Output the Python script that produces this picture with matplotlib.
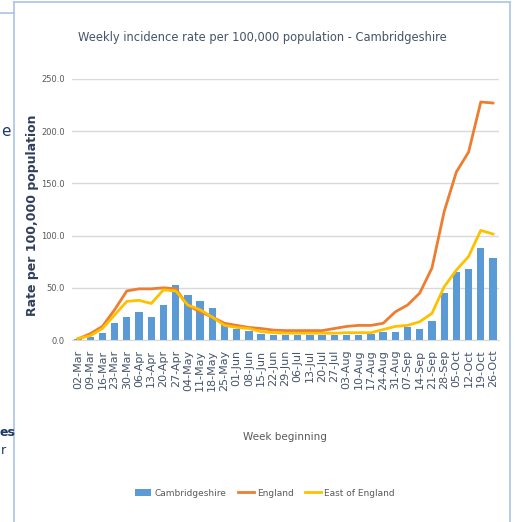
import numpy as np
import matplotlib
matplotlib.use('Agg')
from matplotlib import pyplot as plt
from matplotlib.lines import Line2D

# weekly data
weeks = ['02-Mar', '09-Mar', '16-Mar', '23-Mar', '30-Mar', '06-Apr', '13-Apr',
         '20-Apr', '27-Apr', '04-May', '11-May', '18-May', '25-May', '01-Jun',
         '08-Jun', '15-Jun', '22-Jun', '29-Jun', '06-Jul', '13-Jul', '20-Jul',
         '27-Jul', '03-Aug', '10-Aug', '17-Aug', '24-Aug', '31-Aug', '07-Sep',
         '14-Sep', '21-Sep', '28-Sep', '05-Oct', '12-Oct', '19-Oct', '26-Oct']

cambs = [1, 3, 7, 16, 22, 27, 22, 34, 53, 43, 37.5, 31, 14, 11,
         8.5, 6, 5, 5, 5, 5, 5, 5, 5, 5, 5.5, 8, 7.5, 12.5,
         11, 18.5, 45, 65.5, 68, 88, 79]

england = [1, 6, 13, 29, 47, 49, 49, 50, 49, 33, 27, 22, 16, 14,
           12, 11, 9.5, 9, 9, 9, 9, 11, 13, 14, 14, 16, 27, 33.5,
           45, 69, 123, 161, 180, 228, 227]

east = [1.5, 4, 11, 24, 37, 38, 35, 48, 47, 33.5, 29, 22, 14, 12,
        11, 8, 7, 6.5, 6.5, 6.5, 6.5, 6.5, 7, 7, 7, 10, 13, 14,
        17.5, 25.5, 51, 67, 80, 105, 101.5]

yticks = [0, 50, 100, 150, 200, 250]

navy = '#44546A'

fig = plt.figure(figsize=(5.15, 5.22), dpi=100)
ax = fig.add_axes([71.9/515, 1-340/522, (499.1-71.9)/515, (340-79)/522])

x = np.arange(len(weeks))
b = ax.bar(x, cambs, width=0.6, color='#5B9BD5', zorder=2)
l1, = ax.plot(x, england, color='#ED7D31', lw=2, zorder=3)
l2, = ax.plot(x, east, color='#FFC000', lw=2, zorder=4)

ax.set_xlim(-0.5, len(weeks)-0.5)
ax.set_ylim(0, 250)
ax.set_yticks(yticks)
ax.set_yticklabels(['%.1f' % v for v in yticks], fontsize=6, color='#595959')
ax.set_xticks(x)
ax.set_xticklabels(weeks, rotation=90, fontsize=8, color=navy)
ax.tick_params(axis='y', length=0, pad=5)
ax.tick_params(axis='x', length=0, pad=7)
ax.grid(axis='y', color='#D9D9D9', lw=1, zorder=0)
for s in ['top', 'right', 'left']:
    ax.spines[s].set_visible(False)
ax.spines['bottom'].set_color('#D9D9D9')

fig.text(285/515, 1-437/522, 'Week beginning', ha='center', va='center',
         fontsize=7.5, color='#595959')
fig.text(33/515, 1-215/522, 'Rate per 100,000 population', rotation=90,
         ha='center', va='center', fontsize=9, fontweight='bold', color='#2F3E5C')
fig.text(262/515, 1-38/522, 'Weekly incidence rate per 100,000 population - Cambridgeshire',
         ha='center', va='center', fontsize=8.3, color=navy)

fig.legend([b, l1, l2], ['Cambridgeshire', 'England', 'East of England'],
           loc='center', bbox_to_anchor=(265/515, 1-493/522), ncol=3, frameon=False,
           prop={'size': 6.5}, handlelength=1.8, handletextpad=0.3,
           columnspacing=1.3, labelcolor='#595959')

# frame of the chart box and leftover page text on the left edge
border = '#A9C4E6'
fig.add_artist(Line2D([14/515, 14/515], [0, 1-2/522], color=border, lw=1.2))
fig.add_artist(Line2D([14/515, 510/515], [1-2/522, 1-2/522], color=border, lw=1.2))
fig.add_artist(Line2D([510/515, 510/515], [0, 1-2/522], color=border, lw=1.2))
fig.add_artist(Line2D([0, 14/515], [1-13/522, 1-13/522], color=border, lw=1.2))
fig.text(1/515, 1-132/522, 'e', fontsize=11, color='#1F3864', va='center')
fig.text(0, 1-432/522, 'es', fontsize=9, fontweight='bold', color='#1F3864', va='center')
fig.text(1/515, 1-450/522, 'r', fontsize=9, color='#1F3864', va='center')

fig.savefig('out.png', dpi=100)
